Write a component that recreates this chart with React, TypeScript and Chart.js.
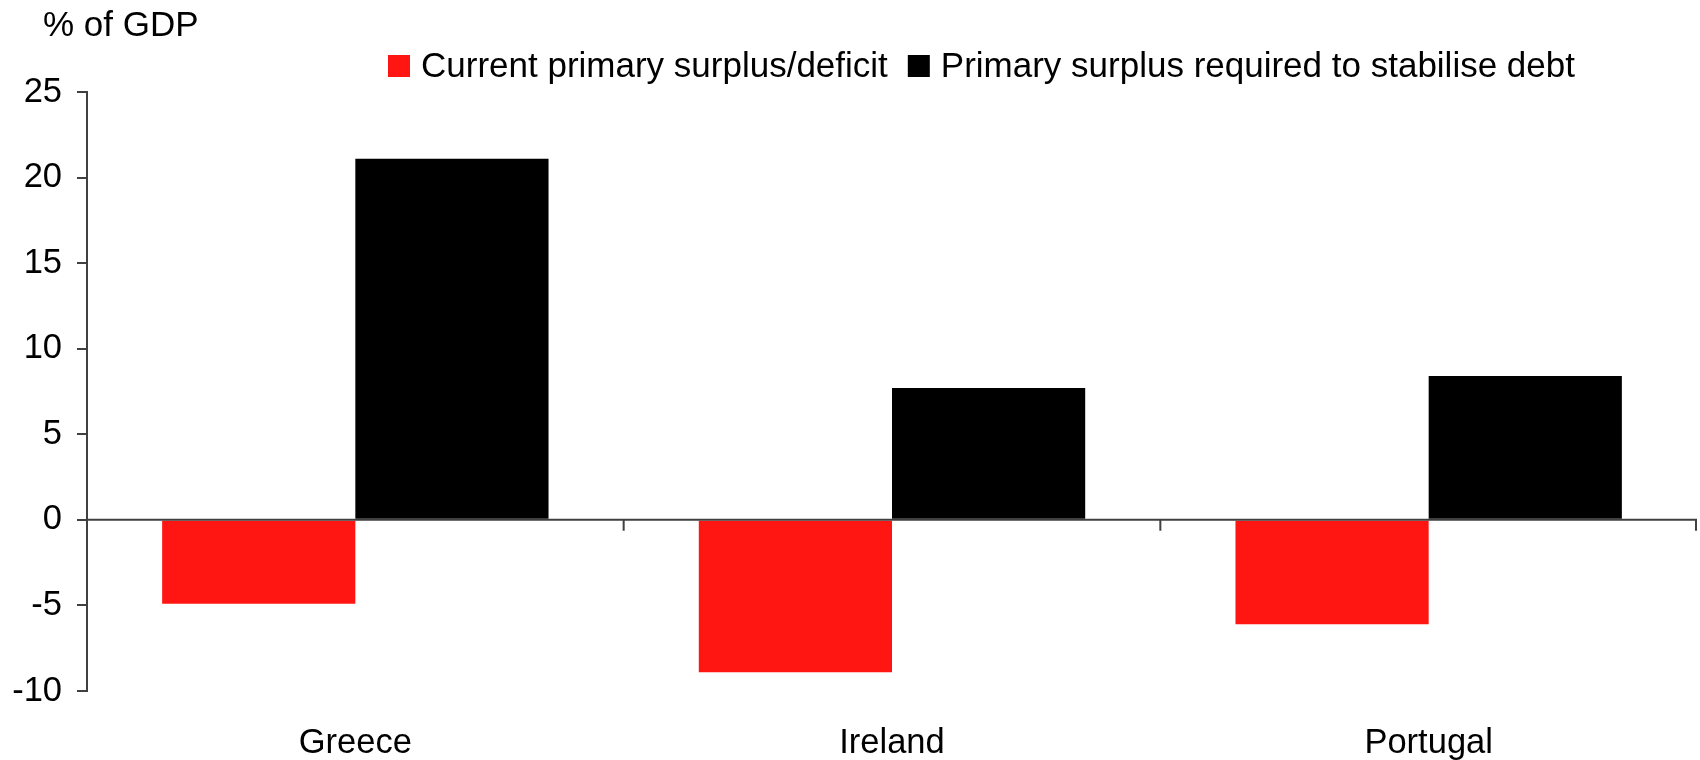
import { useEffect, useRef } from 'react';
import { Chart, registerables } from 'chart.js';

Chart.register(...registerables);

// Primary balance vs. the surplus needed to stabilise debt, % of GDP
const countries = ['Greece', 'Ireland', 'Portugal'];
const currentBalance = [-4.9, -8.9, -6.1];
const requiredSurplus = [21.1, 7.7, 8.4];
const seriesNames = ['Current primary surplus/deficit', 'Primary surplus required to stabilise debt'];
const unitLabel = '% of GDP';
const yMin = -10;
const yMax = 25;
const yStep = 5;

const FONT = '"Liberation Sans", Arial, Helvetica, sans-serif';
const AXIS_COLOR = '#404040';
const RED = '#ff1612';
const BLACK = '#000000';

// Zero line plus short tick marks between the country groups
const zeroLinePlugin = {
  id: 'zeroLine',
  afterDatasetsDraw(chart: any) {
    const { ctx, chartArea, scales } = chart;
    const x = scales.x;
    const y = scales.y;
    const y0 = y.getPixelForValue(0);
    const half = (x.getPixelForValue(1) - x.getPixelForValue(0)) / 2;
    ctx.save();
    ctx.strokeStyle = AXIS_COLOR;
    ctx.lineWidth = 2;
    ctx.beginPath();
    ctx.moveTo(chartArea.left, y0);
    ctx.lineTo(chartArea.right, y0);
    for (let i = 0; i < countries.length; i++) {
      const bx = Math.min(x.getPixelForValue(i) + half, chartArea.right - 1);
      ctx.moveTo(bx, y0);
      ctx.lineTo(bx, y0 + 11);
    }
    ctx.stroke();
    ctx.restore();
  },
};

// Unit caption and series key above the plot
const headerPlugin = {
  id: 'header',
  afterDraw(chart: any) {
    const { ctx } = chart;
    ctx.save();
    ctx.font = `35px ${FONT}`;
    ctx.textBaseline = 'middle';
    ctx.textAlign = 'left';
    ctx.fillStyle = '#000';
    ctx.fillText(unitLabel, 43, 26);
    let x = 388;
    chart.data.datasets.forEach((ds: any) => {
      ctx.fillStyle = ds.backgroundColor;
      ctx.fillRect(x, 55, 22, 22);
      x += 33;
      ctx.fillStyle = '#000';
      ctx.fillText(ds.label, x, 67);
      x += ctx.measureText(ds.label).width + 20;
    });
    ctx.restore();
  },
};

export default function App() {
  const canvasRef = useRef<HTMLCanvasElement | null>(null);

  useEffect(() => {
    const canvas = canvasRef.current;
    if (!canvas) return;
    const chart = new Chart(canvas, {
      type: 'bar',
      data: {
        labels: countries,
        datasets: [
          {
            label: seriesNames[0],
            data: currentBalance,
            backgroundColor: RED,
            borderWidth: 0,
            categoryPercentage: 0.72,
            barPercentage: 1,
          },
          {
            label: seriesNames[1],
            data: requiredSurplus,
            backgroundColor: BLACK,
            borderWidth: 0,
            categoryPercentage: 0.72,
            barPercentage: 1,
          },
        ],
      },
      options: {
        responsive: false,
        animation: false,
        devicePixelRatio: 1,
        layout: { padding: { top: 92, right: 3, left: 0, bottom: 0 } },
        plugins: {
          legend: { display: false },
          tooltip: { enabled: false },
          title: { display: false },
        },
        scales: {
          x: {
            grid: { display: false, drawTicks: false },
            border: { display: false },
            ticks: {
              color: '#000',
              padding: 32,
              font: { family: FONT, size: 34.5 },
              maxRotation: 0,
            },
            afterFit: (scale: any) => {
              scale.height = 69;
            },
          },
          y: {
            min: yMin,
            max: yMax,
            grid: {
              display: true,
              drawOnChartArea: false,
              drawTicks: true,
              tickLength: 10,
              color: AXIS_COLOR,
              lineWidth: 2,
            },
            border: { display: true, color: AXIS_COLOR, width: 2 },
            ticks: {
              stepSize: yStep,
              color: '#000',
              padding: 15,
              font: { family: FONT, size: 34.5 },
            },
            afterFit: (scale: any) => {
              scale.width = 87;
            },
          },
        },
      },
      plugins: [zeroLinePlugin, headerPlugin],
    });
    return () => chart.destroy();
  }, []);

  return (
    <div style={{ position: 'fixed', left: 0, top: 0, width: 1700, height: 760, background: '#fff' }}>
      <canvas ref={canvasRef} width={1700} height={760} style={{ display: 'block' }} />
    </div>
  );
}
